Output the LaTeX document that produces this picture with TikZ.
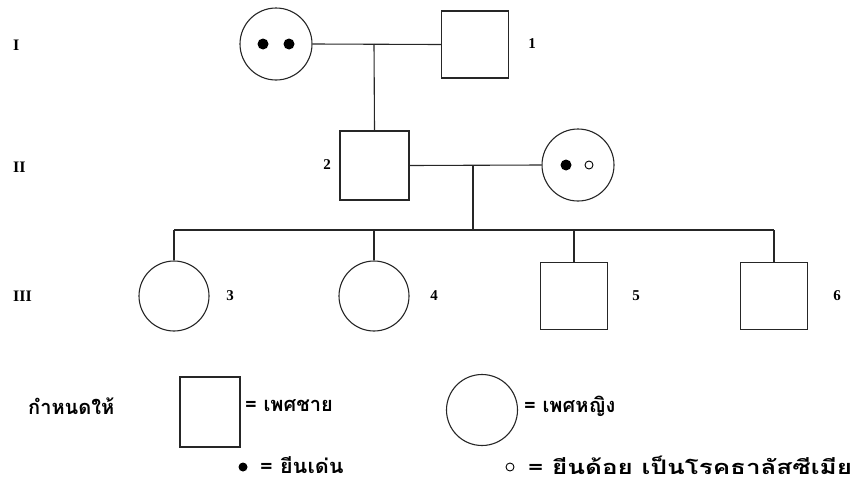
\documentclass[tikz,border=0pt]{standalone}
\usepackage{fontspec}
\setmainfont{Liberation Serif}
\newfontfamily\thaifont[Script=Thai]{Loma}
\begin{document}
\begin{tikzpicture}[x=1pt,y=-1pt,
  ln/.style={line width=1.1pt, black!85},
  male/.style={draw, line width=1.2pt, black!85, minimum width=67pt, minimum height=67pt, inner sep=0pt},
  female/.style={circle, draw, line width=1.1pt, black!85, minimum size=72pt, inner sep=0pt},
  dotf/.style={circle, fill=black, minimum size=11pt, inner sep=0pt},
  doto/.style={circle, draw, line width=0.9pt, minimum size=8pt, inner sep=0pt},
  lab/.style={font=\fontsize{15}{15}\selectfont\bfseries, inner sep=0pt},
  gen/.style={font=\fontsize{16}{16}\selectfont\bfseries, anchor=west, inner sep=0pt},
  th/.style={font=\fontsize{20}{20}\thaifont\bfseries, anchor=west, inner sep=0pt}
]
\useasboundingbox (0,0) rectangle (866,490);
% generation labels
\node[gen] (g1) at (13,45) {I};
\node[gen] (g2) at (13,167) {II};
\node[gen] (g3) at (13,296) {III};
% generation I
\node[female] (f1) at (276,44) {};
\node[dotf] (d1) at (263,44) {};
\node[dotf] (d2) at (289,44) {};
\node[male] (m1) at (475,44.5) {};
\node[lab] (l1) at (532,44) {1};
\coordinate (c1) at (374,44);
\draw[ln] (f1.east) -- (m1.west);
% generation II
\node[male, minimum width=69pt, minimum height=69pt] (m2) at (374.5,165.5) {};
\node[lab] (l2) at (327,165) {2};
\node[female] (f2) at (578,165) {};
\node[dotf] (d3) at (566,165) {};
\node[doto] (d4) at (589,165) {};
\draw[ln] (c1) -- (m2.north);
\draw[ln] (m2.east) -- (f2.west);
\coordinate (c2) at (473,165.5);
\coordinate (c3) at (473,230);
\draw[ln] (c2) -- (c3);
% generation III
\node[female, minimum size=70pt] (k3) at (174,296) {};
\node[female, minimum size=70pt] (k4) at (374,296) {};
\node[male] (k5) at (574,296) {};
\node[male] (k6) at (774,296) {};
\node[lab] (l3) at (230,296) {3};
\node[lab] (l4) at (434,296) {4};
\node[lab] (l5) at (636,296) {5};
\node[lab] (l6) at (837,296) {6};
\coordinate (s3) at (174,230);
\coordinate (s4) at (374,230);
\coordinate (s5) at (574,230);
\coordinate (s6) at (774,230);
\draw[ln] (s3) -- (s6);
\draw[ln] (s3) -- (k3.north);
\draw[ln] (s4) -- (k4.north);
\draw[ln] (s5) -- (k5.north);
\draw[ln] (s6) -- (k6.north);
% legend
\node[th] (t0) at (28,406) {กำหนดให้};
\node[male, minimum width=60pt, minimum height=70pt] (lm) at (210,412) {};
\node[th] (t1) at (245,406) {= เพศชาย};
\node[female, minimum size=71pt] (lf) at (482,410) {};
\node[th] (t2) at (524,406) {= เพศหญิง};
\node[dotf, minimum size=9pt] (ld) at (243,467) {};
\node[th] (t3) at (260,465) {\scalebox{1.08}[1]{= ยีนเด่น}};
\node[doto, minimum size=8pt] (lo) at (510,467) {};
\node[th] (t4) at (528,465) {\scalebox{1.3}[1]{= ยีนด้อย เป็นโรคธาลัสซีเมีย}};
\end{tikzpicture}
\end{document}
